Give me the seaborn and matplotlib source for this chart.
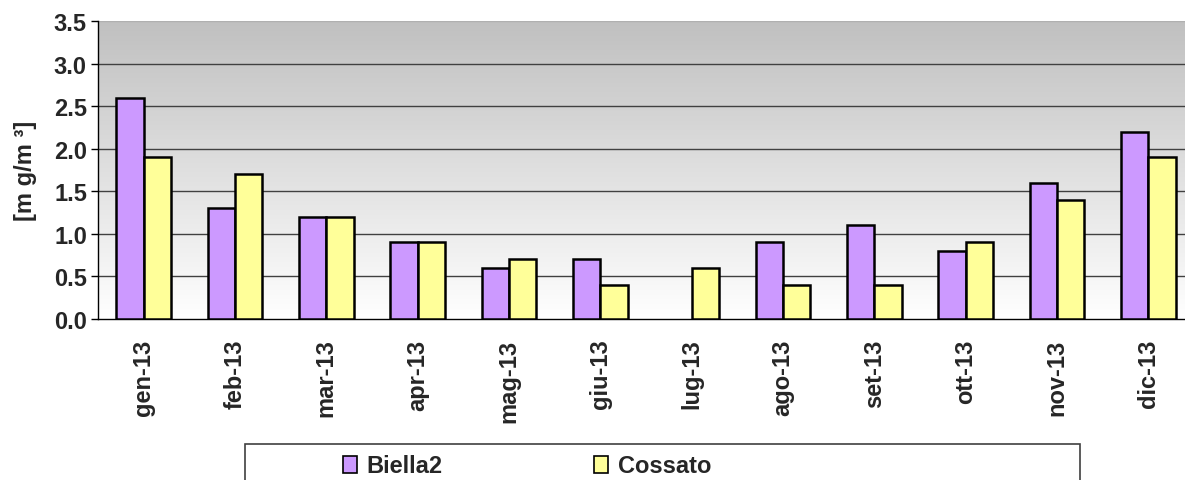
import numpy as np
import pandas as pd
import matplotlib
matplotlib.use("Agg")
import matplotlib.pyplot as plt
from matplotlib.patches import Patch, Rectangle
import seaborn as sns

months = ["gen-13", "feb-13", "mar-13", "apr-13", "mag-13", "giu-13",
          "lug-13", "ago-13", "set-13", "ott-13", "nov-13", "dic-13"]
biella2 = [2.6, 1.3, 1.2, 0.9, 0.6, 0.7, np.nan, 0.9, 1.1, 0.8, 1.6, 2.2]
cossato = [1.9, 1.7, 1.2, 0.9, 0.7, 0.4, 0.6, 0.4, 0.4, 0.9, 1.4, 1.9]
series = ["Biella2", "Cossato"]
colors = ["#CC99FF", "#FFFF99"]
y_ticks = [0.0, 0.5, 1.0, 1.5, 2.0, 2.5, 3.0, 3.5]

df = pd.DataFrame({
    "mese": months * 2,
    "valore": biella2 + cossato,
    "stazione": [series[0]] * len(months) + [series[1]] * len(months),
})

sns.set_theme(style="white")
plt.rcParams["font.family"] = ["Liberation Sans", "DejaVu Sans"]
plt.rcParams["font.weight"] = "bold"

W, H = 1185, 481
fig = plt.figure(figsize=(W / 100, H / 100), dpi=100)
left, right, top, bottom = 98, 1194, 22, 320
ax = fig.add_axes([left / W, 1 - bottom / H, (right - left) / W, (bottom - top) / H])

sns.barplot(data=df, x="mese", y="valore", hue="stazione", palette=colors,
            saturation=1, width=0.6, gap=0, edgecolor="black", linewidth=1.8,
            ax=ax, legend=False, zorder=3)

ax.set_xlim(-0.5, len(months) - 0.5)
ax.set_ylim(0, 3.5)

# gradient background
grad = np.linspace(0, 1, 256).reshape(-1, 1)
cmap = matplotlib.colors.LinearSegmentedColormap.from_list("g", ["#FFFFFF", "#C0C0C0"])
ax.imshow(grad, extent=[-0.5, len(months) - 0.5, 0, 3.5], origin="lower",
          aspect="auto", cmap=cmap, zorder=0)

for yv in y_ticks[1:-1]:
    ax.axhline(yv, color="#404040", lw=1.0, zorder=1)
ax.axhline(3.5, color="#B0B0B0", lw=1.0, zorder=1)

ax.set_yticks(y_ticks)
ax.set_yticklabels([f"{v:.1f}" for v in y_ticks], fontsize=17, fontweight="bold")
ax.set_xticks(range(len(months)))
ax.set_xticklabels(months, rotation=90, fontsize=17, fontweight="bold")
ax.set_xticks(np.arange(-0.5, len(months), 1), minor=True)
ax.tick_params(axis="x", which="major", length=0, pad=14)
ax.tick_params(axis="x", which="minor", length=6, width=1, color="black", direction="out")
ax.tick_params(axis="y", length=5, width=1, color="black", direction="out", pad=3, left=True)

ax.set_xlabel("")
ax.set_ylabel("[m g/m ³]", fontsize=17, fontweight="bold", labelpad=12)

for s in ["top", "right"]:
    ax.spines[s].set_visible(False)
for s in ["left", "bottom"]:
    ax.spines[s].set_color("black")
    ax.spines[s].set_linewidth(1.0)

# legend frame
fig.patches.append(Rectangle((245 / W, -0.1), (1080 - 245) / W, 0.1 + (1 - 445 / H),
                             transform=fig.transFigure, facecolor="white",
                             edgecolor="#404040", lw=1.2))
handles = [Patch(facecolor=c, edgecolor="black", lw=1.2) for c in colors]
fig.legend(handles, series, loc="center left", ncol=2, frameon=False,
           bbox_to_anchor=(322 / W, 1 - 467 / H),
           handlelength=0.6, handleheight=0.7, handletextpad=0.4,
           columnspacing=6.4, prop={"weight": "bold", "size": 17})

fig.savefig("out.png", dpi=100)
